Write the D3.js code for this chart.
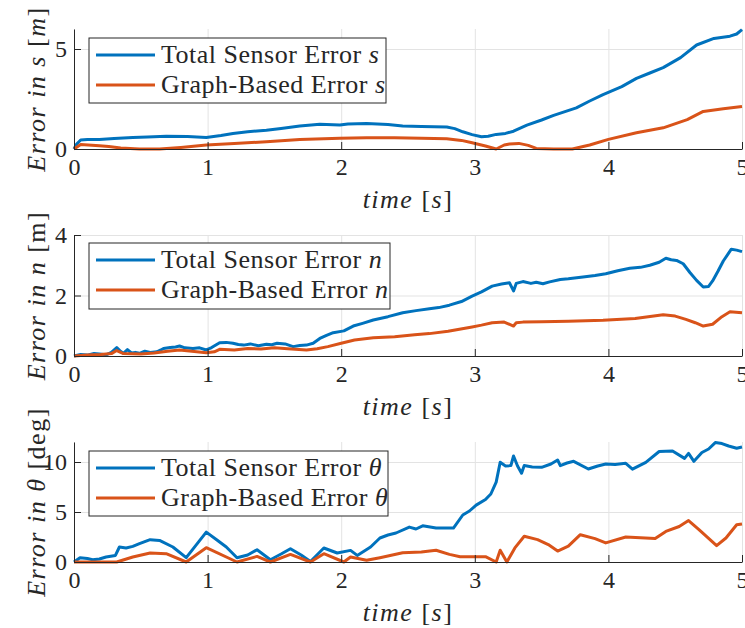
<!DOCTYPE html>
<html>
<head>
<meta charset="utf-8">
<script src="https://cdn.jsdelivr.net/npm/d3@7"></script>
<style>
  body { margin: 0; background: #fff; }
  text { font-family: "Liberation Serif", serif; fill: #262626; }
  .axis path, .axis line { stroke: #262626; }
  .grid line { stroke: #e3e3e3; }
  .grid path { stroke: none; }
</style>
</head>
<body>
<div id="chart"></div>
<script>
//---------------- data ----------------------
var xTicks = [0, 1, 2, 3, 4, 5];

// panel 1 : error in s
var sTotalT = [0, 0.02, 0.05, 0.1, 0.19, 0.3, 0.44, 0.55, 0.69, 0.85, 0.99, 1.1, 1.19, 1.3, 1.44, 1.55, 1.69, 1.84, 1.99, 2.05, 2.19, 2.35, 2.46, 2.6, 2.79, 2.85, 2.91, 2.98, 3.05, 3.1, 3.16, 3.23, 3.29, 3.39, 3.5, 3.59, 3.76, 3.86, 3.96, 4.1, 4.21, 4.31, 4.41, 4.54, 4.66, 4.79, 4.91, 4.96, 5.0];
var sTotalV = [0, 0.25, 0.45, 0.47, 0.48, 0.52, 0.58, 0.6, 0.64, 0.62, 0.58, 0.68, 0.78, 0.86, 0.94, 1.03, 1.15, 1.24, 1.2, 1.25, 1.27, 1.22, 1.15, 1.12, 1.1, 1.02, 0.86, 0.72, 0.61, 0.64, 0.73, 0.78, 0.89, 1.19, 1.45, 1.68, 2.06, 2.4, 2.72, 3.12, 3.53, 3.8, 4.07, 4.57, 5.2, 5.53, 5.64, 5.75, 5.97];
var sGraphT = [0, 0.05, 0.19, 0.26, 0.35, 0.49, 0.64, 0.8, 0.99, 1.2, 1.44, 1.69, 1.99, 2.19, 2.4, 2.6, 2.79, 2.9, 2.98, 3.08, 3.16, 3.22, 3.26, 3.33, 3.4, 3.46, 3.59, 3.73, 3.86, 4.0, 4.21, 4.41, 4.59, 4.71, 4.86, 5.0];
var sGraphV = [0, 0.23, 0.16, 0.12, 0.05, 0.0, 0.0, 0.08, 0.2, 0.28, 0.36, 0.48, 0.54, 0.56, 0.56, 0.54, 0.51, 0.43, 0.31, 0.15, 0.0, 0.2, 0.25, 0.28, 0.18, 0.03, 0.0, 0.0, 0.2, 0.48, 0.81, 1.06, 1.47, 1.88, 2.01, 2.13];

// panel 2 : error in n
var nTotalT = [0, 0.05, 0.1, 0.15, 0.19, 0.24, 0.28, 0.32, 0.35, 0.37, 0.4, 0.43, 0.46, 0.49, 0.53, 0.57, 0.62, 0.65, 0.67, 0.72, 0.76, 0.79, 0.83, 0.89, 0.94, 0.99, 1.03, 1.09, 1.14, 1.19, 1.23, 1.27, 1.32, 1.38, 1.44, 1.48, 1.52, 1.58, 1.64, 1.69, 1.74, 1.79, 1.84, 1.89, 1.94, 2.02, 2.09, 2.16, 2.24, 2.35, 2.46, 2.56, 2.66, 2.73, 2.81, 2.9, 2.98, 3.05, 3.13, 3.2, 3.26, 3.29, 3.31, 3.36, 3.42, 3.46, 3.51, 3.56, 3.64, 3.7, 3.81, 3.9, 3.98, 4.07, 4.16, 4.24, 4.31, 4.38, 4.43, 4.47, 4.51, 4.56, 4.61, 4.66, 4.71, 4.75, 4.78, 4.82, 4.86, 4.92, 4.96, 5.0];
var nTotalV = [0, 0.05, 0.03, 0.08, 0.07, 0.04, 0.12, 0.28, 0.15, 0.09, 0.21, 0.1, 0.12, 0.09, 0.16, 0.12, 0.14, 0.2, 0.25, 0.28, 0.3, 0.33, 0.27, 0.25, 0.27, 0.2, 0.28, 0.44, 0.45, 0.42, 0.38, 0.36, 0.4, 0.34, 0.39, 0.37, 0.42, 0.4, 0.31, 0.35, 0.36, 0.42, 0.58, 0.68, 0.77, 0.83, 0.99, 1.08, 1.19, 1.3, 1.43, 1.5, 1.56, 1.6, 1.68, 1.8, 1.98, 2.12, 2.31, 2.38, 2.42, 2.15, 2.4, 2.46, 2.4, 2.44, 2.39, 2.45, 2.53, 2.55, 2.61, 2.66, 2.72, 2.82, 2.9, 2.93, 3.0, 3.1, 3.23, 3.18, 3.16, 3.05, 2.76, 2.5, 2.28, 2.3, 2.48, 2.8, 3.14, 3.53, 3.5, 3.45];
var nGraphT = [0, 0.1, 0.2, 0.28, 0.32, 0.37, 0.5, 0.6, 0.7, 0.79, 0.9, 0.99, 1.05, 1.09, 1.2, 1.3, 1.4, 1.5, 1.6, 1.74, 1.82, 1.9, 2.0, 2.1, 2.24, 2.4, 2.55, 2.66, 2.8, 2.98, 3.05, 3.13, 3.22, 3.29, 3.31, 3.36, 3.5, 3.7, 3.96, 4.2, 4.41, 4.5, 4.58, 4.65, 4.71, 4.78, 4.85, 4.91, 5.0];
var nGraphV = [0, 0.03, 0.05, 0.08, 0.18, 0.08, 0.07, 0.1, 0.16, 0.2, 0.15, 0.11, 0.14, 0.22, 0.2, 0.25, 0.23, 0.27, 0.24, 0.2, 0.24, 0.31, 0.42, 0.53, 0.6, 0.64, 0.7, 0.74, 0.82, 0.96, 1.02, 1.1, 1.12, 0.99, 1.1, 1.12, 1.13, 1.15, 1.18, 1.24, 1.36, 1.32, 1.21, 1.1, 0.99, 1.05, 1.3, 1.46, 1.43];

// panel 3 : error in theta
var tTotalT = [0, 0.045, 0.1, 0.14, 0.19, 0.24, 0.31, 0.34, 0.39, 0.44, 0.49, 0.57, 0.64, 0.74, 0.84, 0.99, 1.07, 1.14, 1.22, 1.3, 1.37, 1.47, 1.55, 1.62, 1.7, 1.77, 1.87, 1.97, 2.07, 2.12, 2.22, 2.29, 2.35, 2.41, 2.51, 2.56, 2.61, 2.71, 2.84, 2.91, 2.96, 3.01, 3.08, 3.12, 3.16, 3.19, 3.23, 3.27, 3.29, 3.32, 3.35, 3.37, 3.43, 3.5, 3.57, 3.62, 3.64, 3.69, 3.74, 3.85, 3.92, 3.98, 4.05, 4.13, 4.18, 4.28, 4.38, 4.48, 4.57, 4.6, 4.64, 4.7, 4.75, 4.8, 4.85, 4.9, 4.96, 5.0];
var tTotalV = [0, 0.43, 0.35, 0.23, 0.3, 0.5, 0.66, 1.5, 1.4, 1.56, 1.83, 2.23, 2.16, 1.5, 0.43, 2.99, 2.2, 1.5, 0.43, 0.7, 1.23, 0.23, 0.8, 1.33, 0.7, 0.05, 1.4, 0.9, 1.16, 0.66, 1.5, 2.4, 2.7, 2.9, 3.49, 3.3, 3.62, 3.39, 3.39, 4.7, 5.1, 5.69, 6.25, 6.8, 7.99, 9.97, 9.6, 9.64, 10.6, 9.6, 8.88, 9.64, 9.5, 9.47, 9.8, 10.2, 9.64, 9.9, 10.07, 9.3, 9.6, 9.8, 9.75, 9.87, 9.28, 9.97, 11.05, 11.1, 10.36, 10.86, 10.07, 10.95, 11.3, 11.94, 11.84, 11.6, 11.38, 11.5];
var tGraphT = [0, 0.14, 0.32, 0.44, 0.57, 0.69, 0.84, 0.99, 1.22, 1.37, 1.47, 1.62, 1.77, 1.87, 2.02, 2.07, 2.19, 2.29, 2.46, 2.6, 2.71, 2.81, 2.89, 3.08, 3.16, 3.19, 3.24, 3.3, 3.37, 3.47, 3.55, 3.62, 3.7, 3.79, 3.9, 3.98, 4.13, 4.35, 4.43, 4.53, 4.6, 4.68, 4.81, 4.88, 4.96, 5.0];
var tGraphV = [0, 0, 0, 0.5, 0.9, 0.83, 0, 1.43, 0, 0.56, 0, 0.76, 0, 0.83, 0, 0.5, 0.17, 0.43, 0.92, 1.0, 1.18, 0.76, 0.53, 0.53, 0, 1.18, 0, 1.41, 2.57, 2.24, 1.74, 1.09, 1.58, 2.73, 2.34, 1.91, 2.5, 2.34, 3.06, 3.55, 4.14, 3.22, 1.64, 2.4, 3.72, 3.8];

//---------------- layout ----------------------
var w = 745;
var h = 628;
var left = 74;
var right = 742;
var blue = "#0072BD";
var orange = "#D95319";

var panels = [
	{ top: 29, bottom: 149, yMax: 6, yTicks: [0, 5], sym: "s", unit: "m", unitItalic: true,
	  total: [sTotalT, sTotalV], graph: [sGraphT, sGraphV], legend: [89, 38, 297, 65] },
	{ top: 235, bottom: 356, yMax: 4, yTicks: [0, 2, 4], sym: "n", unit: "m", unitItalic: false,
	  total: [nTotalT, nTotalV], graph: [nGraphT, nGraphV], legend: [89, 243, 301, 66] },
	{ top: 442, bottom: 562, yMax: 12, yTicks: [0, 5, 10], sym: "\u03b8", unit: "deg", unitItalic: false,
	  total: [tTotalT, tTotalV], graph: [tGraphT, tGraphV], legend: [89, 451, 299, 65] }
];

var svg = d3.select("#chart").append("svg").attr("width", w).attr("height", h);

var xScale = d3.scaleLinear().domain([0, 5]).range([left, right]);

var toPoints = function(pair) {
	return pair[0].map(function(t, i) { return [t, pair[1][i]]; });
};

//---------------- draw each panel ----------------------
panels.forEach(function(p) {
	var yScale = d3.scaleLinear().domain([0, p.yMax]).range([p.bottom, p.top]);
	var g = svg.append("g");

	// grid
	g.append("g")
		.attr("class", "grid")
		.attr("transform", "translate(0," + p.bottom + ")")
		.call(d3.axisBottom(xScale).tickValues(xTicks).tickSize(-(p.bottom - p.top)).tickFormat(""));
	g.append("g")
		.attr("class", "grid")
		.attr("transform", "translate(" + left + ",0)")
		.call(d3.axisLeft(yScale).tickValues(p.yTicks).tickSize(-(right - left)).tickFormat(""));

	var line = d3.line()
		.x(function(d) { return xScale(d[0]); })
		.y(function(d) { return yScale(d[1]); });

	g.append("path").datum(toPoints(p.total))
		.attr("d", line).attr("fill", "none").attr("stroke", blue)
		.attr("stroke-width", 3).attr("stroke-linejoin", "round");
	g.append("path").datum(toPoints(p.graph))
		.attr("d", line).attr("fill", "none").attr("stroke", orange)
		.attr("stroke-width", 3).attr("stroke-linejoin", "round");

	// axes (ticks point inward)
	g.append("g")
		.attr("class", "axis")
		.attr("transform", "translate(0," + p.bottom + ")")
		.call(d3.axisBottom(xScale).tickValues(xTicks).tickFormat(d3.format("d"))
			.tickSizeInner(-7).tickSizeOuter(0).tickPadding(9));
	g.append("g")
		.attr("class", "axis")
		.attr("transform", "translate(" + left + ",0)")
		.call(d3.axisLeft(yScale).tickValues(p.yTicks).tickFormat(d3.format("d"))
			.tickSizeInner(-7).tickSizeOuter(0).tickPadding(7));
	g.selectAll(".axis text").style("font-family", "Liberation Serif").style("font-size", "24px").attr("fill", "#262626");

	// x label
	var xl = g.append("text")
		.attr("x", (left + right) / 2)
		.attr("y", p.bottom + 59)
		.attr("text-anchor", "middle")
		.style("font-size", "26px")
		.style("letter-spacing", "1.5px");
	xl.append("tspan").style("font-style", "italic").text("time ");
	xl.append("tspan").text("[");
	xl.append("tspan").style("font-style", "italic").text("s");
	xl.append("tspan").text("]");

	// y label
	var yl = g.append("text")
		.attr("transform", "translate(45," + ((p.top + p.bottom) / 2) + ") rotate(-90)")
		.attr("text-anchor", "middle")
		.style("font-size", "26px")
		.style("letter-spacing", "1.5px");
	yl.append("tspan").style("font-style", "italic").text("Error in " + p.sym + " ");
	yl.append("tspan").text("[");
	yl.append("tspan").style("font-style", p.unitItalic ? "italic" : "normal").text(p.unit);
	yl.append("tspan").text("]");

	// legend
	var lg = g.append("g").attr("transform", "translate(" + p.legend[0] + "," + p.legend[1] + ")");
	lg.append("rect")
		.attr("width", p.legend[2]).attr("height", p.legend[3])
		.attr("fill", "#fff").attr("stroke", "#262626").attr("stroke-width", 1);
	var entries = [["Total Sensor Error ", blue], ["Graph-Based Error ", orange]];
	entries.forEach(function(e, i) {
		var cy = 17 + i * 30;
		lg.append("line")
			.attr("x1", 7).attr("x2", 66).attr("y1", cy).attr("y2", cy)
			.attr("stroke", e[1]).attr("stroke-width", 3);
		var t = lg.append("text")
			.attr("x", 72).attr("y", cy + 8)
			.style("font-size", "26px")
			.style("letter-spacing", "0.5px");
		t.append("tspan").text(e[0]);
		t.append("tspan").style("font-style", "italic").text(p.sym);
	});
});
</script>
</body>
</html>
